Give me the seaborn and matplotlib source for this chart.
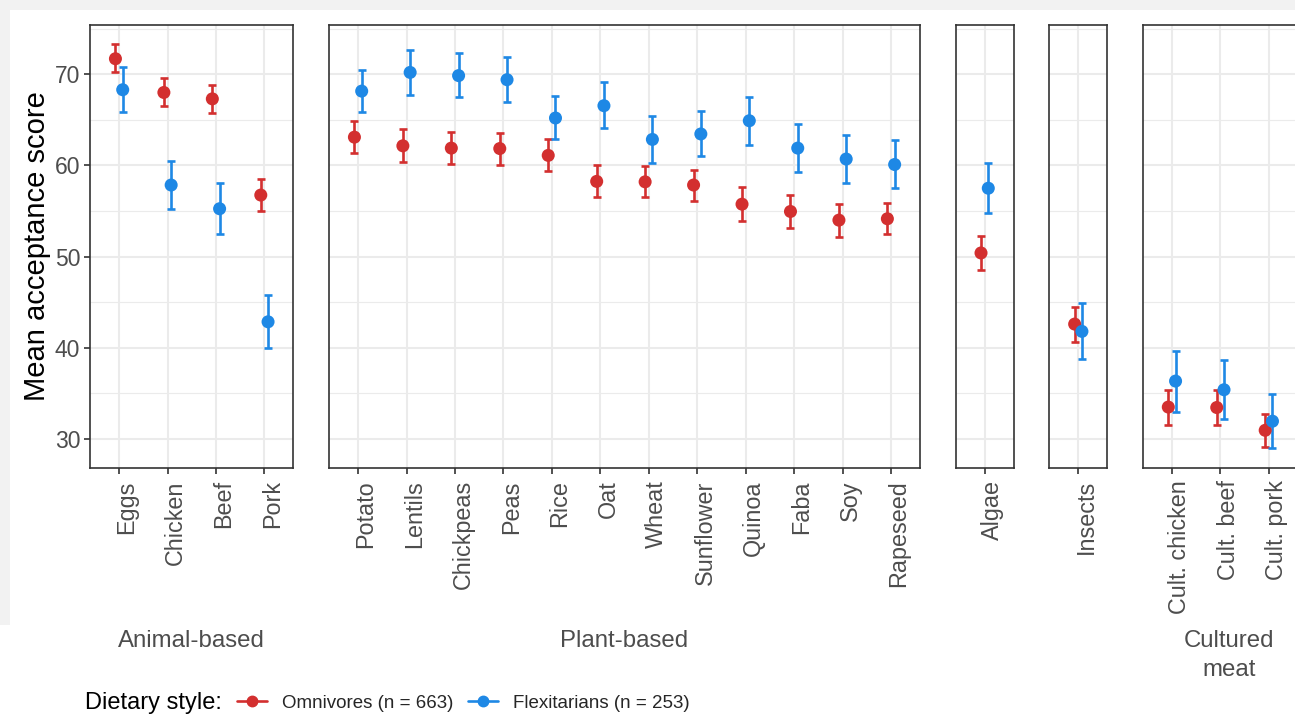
import numpy as np
import pandas as pd
import matplotlib
matplotlib.use("Agg")
import matplotlib.pyplot as plt
import matplotlib.transforms as mtransforms
from matplotlib.lines import Line2D
from matplotlib.patches import Rectangle
import seaborn as sns

foods = ["Eggs", "Chicken", "Beef", "Pork",
         "Potato", "Lentils", "Chickpeas", "Peas", "Rice", "Oat", "Wheat",
         "Sunflower", "Quinoa", "Faba", "Soy", "Rapeseed",
         "Algae", "Insects",
         "Cult. chicken", "Cult. beef", "Cult. pork"]
food_group = (["Animal-based"] * 4 + ["Plant-based"] * 12 + ["Algae", "Insects"]
              + ["Cultured meat"] * 3)
group_order = ["Animal-based", "Plant-based", "Algae", "Insects", "Cultured meat"]
strip_labels = ["Animal-based", "Plant-based", "", "", "Cultured\nmeat"]

omni_mean = [71.7, 68.0, 67.3, 56.75, 63.1, 62.15, 61.9, 61.85, 61.1, 58.25, 58.2,
             57.85, 55.75, 54.95, 54.0, 54.15, 50.4, 42.6, 33.5, 33.45, 30.95]
omni_lo = [70.2, 66.5, 65.8, 55.0, 61.4, 60.35, 60.2, 60.1, 59.4, 56.55, 56.5,
           56.15, 53.9, 53.1, 52.2, 52.45, 48.55, 40.65, 31.55, 31.5, 29.15]
omni_hi = [73.3, 69.55, 68.8, 58.5, 64.85, 64.0, 63.7, 63.6, 62.85, 60.05, 59.95,
           59.55, 57.6, 56.8, 55.75, 55.9, 52.25, 44.5, 35.4, 35.4, 32.75]
flex_mean = [68.3, 57.85, 55.25, 42.85, 68.15, 70.2, 69.85, 69.4, 65.2, 66.55, 62.85,
             63.45, 64.9, 61.9, 60.7, 60.1, 57.5, 41.8, 36.35, 35.4, 31.95]
flex_lo = [65.9, 55.2, 52.5, 39.95, 65.85, 67.75, 67.45, 66.95, 62.85, 64.1, 60.3,
           61.0, 62.25, 59.25, 58.05, 57.55, 54.75, 38.8, 33.0, 32.2, 29.0]
flex_hi = [70.75, 60.45, 58.05, 45.75, 70.5, 72.7, 72.35, 71.85, 67.65, 69.1, 65.4,
           65.95, 67.5, 64.55, 63.35, 62.75, 60.3, 44.9, 39.65, 38.65, 34.9]

diets = ["Omnivores (n = 663)", "Flexitarians (n = 253)"]
colors = {diets[0]: "#D32F2F", diets[1]: "#1E88E5"}
dodge = {diets[0]: -0.075, diets[1]: 0.075}

df = pd.concat([
    pd.DataFrame({"food": foods, "group": food_group, "diet": diets[0],
                  "mean": omni_mean, "lo": omni_lo, "hi": omni_hi}),
    pd.DataFrame({"food": foods, "group": food_group, "diet": diets[1],
                  "mean": flex_mean, "lo": flex_lo, "hi": flex_hi}),
], ignore_index=True)

sns.set_theme(style="white")
plt.rcParams["font.family"] = ["Liberation Sans", "DejaVu Sans"]

W, H = 1295, 718
fig = plt.figure(figsize=(W / 100, H / 100), dpi=100)
fig.patch.set_facecolor("white")
# grey screenshot margins
fig.add_artist(Rectangle((0, 1 - 10 / H), 1, 10 / H, transform=fig.transFigure,
                         facecolor="#F2F2F2", edgecolor="none"))
fig.add_artist(Rectangle((0, 93 / H), 10 / W, 1 - 93 / H, transform=fig.transFigure,
                         facecolor="#F2F2F2", edgecolor="none"))

# panel geometry in pixels (free x space like facet_grid)
x_start, unit, gap = 90, 48.45, 35.5
top_px, bot_px = 25, 467.7
ylim = (26.85, 75.4)

x_px = x_start
for gi, g in enumerate(group_order):
    sub = df[df["group"] == g].copy()
    cats = list(dict.fromkeys(sub["food"]))
    n = len(cats)
    span = n - 1 + 1.2
    if gi == len(group_order) - 1:
        span += 0.35  # last panel runs past the right edge of the picture
    width_px = span * unit
    ax = fig.add_axes([x_px / W, 1 - bot_px / H, width_px / W, (bot_px - top_px) / H])
    x_px += width_px + gap

    sub["x"] = sub["food"].map({c: i for i, c in enumerate(cats)}) + sub["diet"].map(dodge)

    for d in diets:
        s = sub[sub["diet"] == d]
        ax.errorbar(s["x"], s["mean"], yerr=[s["mean"] - s["lo"], s["hi"] - s["mean"]],
                    fmt="none", ecolor=colors[d], elinewidth=1.9, capsize=3,
                    capthick=1.9, zorder=3)
    sns.scatterplot(data=sub, x="x", y="mean", hue="diet", palette=colors,
                    hue_order=diets, s=88, edgecolor="none", legend=False,
                    ax=ax, zorder=4)

    ax.set_xlim(-0.6, -0.6 + span)
    ax.set_ylim(*ylim)
    ax.set_xticks(range(n))
    ax.set_xticklabels(cats, rotation=90, fontsize=16.8, color="#4D4D4D")
    ax.set_yticks([30, 40, 50, 60, 70])
    ax.set_yticks([35, 45, 55, 65, 75], minor=True)
    ax.grid(True, which="major", color="#EBEBEB", linewidth=1.5, zorder=0)
    ax.grid(True, which="minor", axis="y", color="#EBEBEB", linewidth=0.8, zorder=0)
    ax.set_axisbelow(True)
    ax.set_xlabel("")
    ax.set_ylabel("")
    ax.tick_params(axis="x", which="major", length=4, width=1.2, color="#333333",
                   direction="out", pad=5, bottom=True)
    ax.tick_params(axis="y", which="minor", length=0)
    if gi == 0:
        ax.tick_params(axis="y", which="major", length=4, width=1.2, color="#333333",
                       direction="out", pad=3, labelsize=16.5, labelcolor="#4D4D4D", left=True)
        ax.set_ylabel("Mean acceptance score", fontsize=21, color="black", labelpad=3)
    else:
        ax.tick_params(axis="y", which="major", length=0, labelleft=False)
    for sp in ax.spines.values():
        sp.set_color("#333333")
        sp.set_linewidth(1.2)
    # shift rotated labels a little right of their ticks, as in the reference
    offset = mtransforms.ScaledTranslation(8 / 100, 0, fig.dpi_scale_trans)
    for lab in ax.get_xticklabels():
        lab.set_transform(lab.get_transform() + offset)

    if strip_labels[gi]:
        cx = (ax.get_position().x0 + ax.get_position().x1) / 2
        fig.text(cx, 1 - 630 / H, strip_labels[gi], ha="center", va="top",
                 fontsize=17.3, color="#4D4D4D", linespacing=1.4)

# legend
fig.text(85 / W, 1 - 703 / H, "Dietary style:", ha="left", va="center",
         fontsize=17, color="black")
handles = [Line2D([0], [0], color=colors[d], lw=1.9, marker="o", markersize=7.5)
           for d in diets]
fig.legend(handles, diets, loc="center left", bbox_to_anchor=(237 / W, 1 - 703 / H),
           ncol=2, frameon=False, fontsize=13.5, handlelength=1.6,
           handletextpad=0.8, columnspacing=0.8, borderpad=0, borderaxespad=0)

fig.savefig("out.png", dpi=100)
